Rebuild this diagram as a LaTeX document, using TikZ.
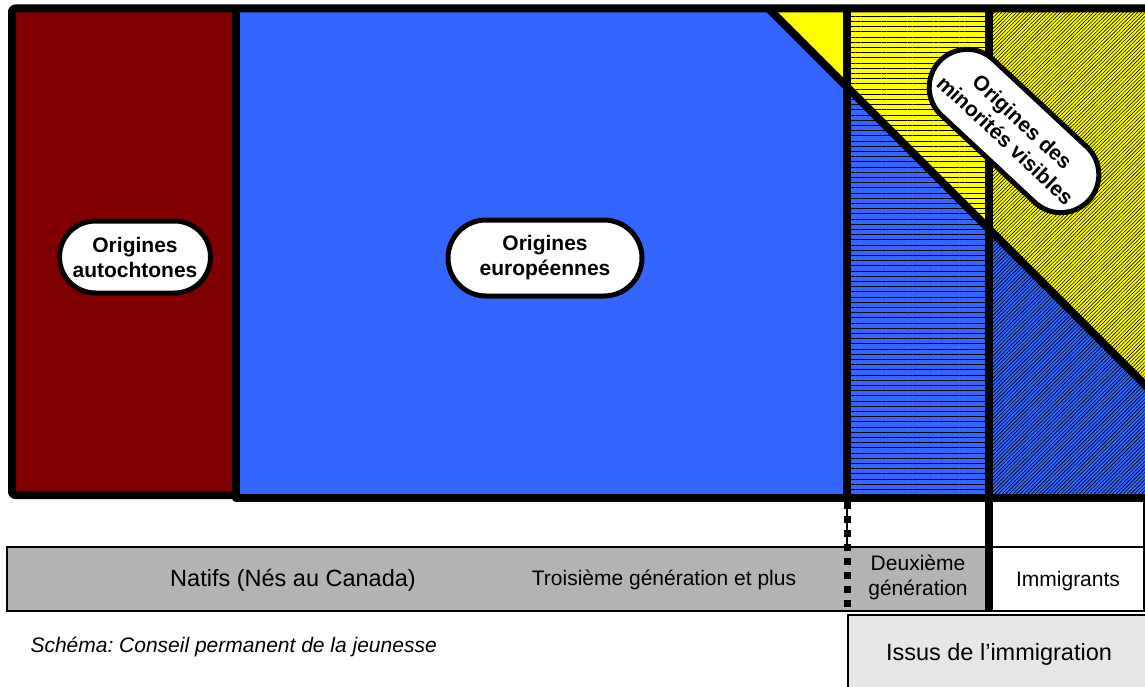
\documentclass[tikz,border=0pt]{standalone}
\usepackage{fontspec}
\setmainfont{Liberation Sans}
\usetikzlibrary{patterns.meta}
\frenchspacing
\definecolor{autored}{HTML}{800000}
\definecolor{eurblue}{HTML}{3366FF}
\definecolor{visyellow}{HTML}{FFFF00}
\definecolor{bandgray}{HTML}{B3B3B3}
\definecolor{issugray}{HTML}{E6E6E6}
\tikzset{
    x=1pt, y=-1pt, % one unit is one pixel of the picture, y going down
    frame/.style={line width=8pt, line join=round}, % the thick black borders
    pill/.style={draw, fill=white, line width=5pt, align=center, font=\bfseries\fontsize{21}{25}\selectfont}, % white labels with round ends
    band/.style={draw, line width=1.5pt}, % thin boxes of the bottom band
    hlines/.style={postaction={pattern={Lines[angle=0, distance=5.2pt, line width=0.8pt]}, pattern color=black}}, % second generation
    dlines/.style={postaction={pattern={Lines[angle=45, distance=2.6pt, line width=0.6pt]}, pattern color=black}}, % immigrants
    txt/.style={anchor=base, font=\fontsize{21}{25}\selectfont},
}
\begin{document}
\begin{tikzpicture}
    \useasboundingbox (0,0) rectangle (1145,687);
    \fill[autored] (12,8.5) rectangle (236,495);
    \fill[eurblue] (236,8.5) rectangle (847,498);
    \fill[visyellow] (768.5,8.5) -- (847,8.5) -- (847,87) -- cycle;
    \path[fill=visyellow, hlines] (847,8.5) -- (989,8.5) -- (989,229) -- (847,87) -- cycle;
    \path[fill=eurblue, hlines] (847,87) -- (989,229) -- (989,498) -- (847,498) -- cycle;
    \path[fill=visyellow, dlines] (989,8.5) -- (1150,8.5) -- (1150,390) -- (989,229) -- cycle;
    \path[fill=eurblue, dlines] (989,229) -- (1150,390) -- (1150,498) -- (989,498) -- cycle;
    \draw[band, fill=white] (847,498) rectangle (1144,547);
    \draw[band, fill=bandgray] (7,547) rectangle (989,611);
    \draw[band, fill=white] (989,547) rectangle (1144,611);
    \draw[band, fill=issugray] (848,615) rectangle (1150,690);
    \draw[line width=7pt, dash pattern=on 7pt off 7pt] (847,502) -- (847,609);
    \draw[frame, rounded corners=3pt] (236,495) -- (12,495) -- (12,8.5) -- (1150,8.5);
    \draw[frame] (236,8.5) -- (236,498) -- (1150,498);
    \draw[frame] (847,8.5) -- (847,498);
    \draw[frame] (989,8.5) -- (989,611);
    \draw[frame] (768.5,8.5) -- (1150,390);
    \node[pill, minimum width=151pt, minimum height=72pt, rounded corners=36pt] (autoch) at (135,257) {Origines\\autochtones};
    \node[pill, minimum width=194pt, minimum height=76pt, rounded corners=38pt] (europ) at (545,258) {Origines\\européennes};
    \node[pill, minimum width=204pt, minimum height=76pt, rounded corners=38pt, rotate=-43] (minvis) at (1014,131) {Origines des\\minorités visibles};
    \node[txt, font=\fontsize{23.5}{28}\selectfont] (natifs) at (293,586) {Natifs (Nés au Canada)};
    \node[txt] (troisieme) at (664,585) {Troisième génération et plus};
    \node[align=center, font=\fontsize{21}{25}\selectfont] (deuxieme) at (918,577) {Deuxième\\génération};
    \node[txt] (immig) at (1068,586) {Immigrants};
    \node[txt, font=\fontsize{23.5}{28}\selectfont] (issus) at (999,660) {Issus de l’immigration};
    \node[txt, anchor=base west, font=\itshape\fontsize{21}{25}\selectfont] (source) at (27,652) {Schéma: Conseil permanent de la jeunesse};
\end{tikzpicture}
\end{document}
